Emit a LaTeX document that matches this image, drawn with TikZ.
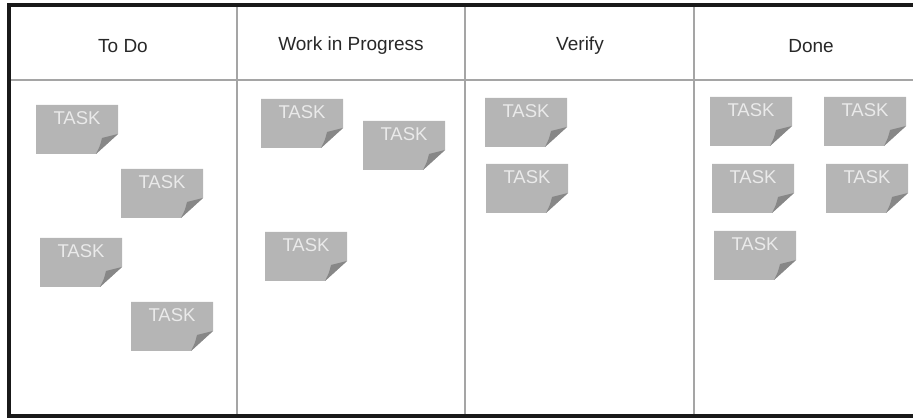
\documentclass[tikz,border=0pt]{standalone}
\usepackage{fontspec}
\setsansfont{Liberation Sans}
\usetikzlibrary{calc}
\definecolor{notegray}{RGB}{181,181,181}
\definecolor{foldgray}{RGB}{135,135,135}
\definecolor{labelwhite}{RGB}{234,234,234}
\definecolor{gridgray}{RGB}{165,165,165}
\definecolor{headink}{RGB}{40,40,40}
\tikzset{
    frameline/.style={line width=3.5pt,black!90,line join=miter},
    gridline/.style={line width=1.1pt,gridgray},
    heading/.style={font=\sffamily\fontsize{19}{21}\selectfont,text=headink},
    notebody/.style={fill=notegray},
    notefold/.style={fill=foldgray},
    notelabel/.style={font=\sffamily\fontsize{18.5}{20}\selectfont,text=labelwhite,inner sep=0pt},
    tasknote/.pic={
        \fill[notebody] (0,0) -- (82,0) -- (82,29) -- (60,49) -- (0,49) -- cycle;
        \fill[notefold] (82,29) .. controls (74,31) .. (66,33) .. controls (64,41) .. (60,49) -- cycle;
        \node[notelabel] (-label) at (41,13) {TASK};
    }
}

\begin{document}
\begin{tikzpicture}[x=1pt,y=-1pt]
    \useasboundingbox (0,0) rectangle (913,419);
    % Grid
    \draw[gridline] (9,80) -- (913,80);
    \foreach \x in {237,465,694}
        \draw[gridline] (\x,5) -- (\x,416);
    % Frame
    \draw[frameline] (913,5) -- (9,5) -- (9,416) -- (913,416);
    % Headings
    \node[heading] (todo) at (123,46) {To Do};
    \node[heading] (wip) at (351,46) {Work in Progress};
    \node[heading] (verify) at (580,46) {Verify};
    \node[heading] (done) at (811,46) {Done};
    % To Do
    \pic (todoA) at (36,105) {tasknote};
    \pic (todoB) at (121,169) {tasknote};
    \pic (todoC) at (40,238) {tasknote};
    \pic (todoD) at (131,302) {tasknote};
    % Work in Progress
    \pic (wipA) at (261,99) {tasknote};
    \pic (wipB) at (363,121) {tasknote};
    \pic (wipC) at (265,232) {tasknote};
    % Verify
    \pic (verifyA) at (485,98) {tasknote};
    \pic (verifyB) at (486,164) {tasknote};
    % Done
    \pic (doneA) at (710,97) {tasknote};
    \pic (doneB) at (824,97) {tasknote};
    \pic (doneC) at (712,164) {tasknote};
    \pic (doneD) at (826,164) {tasknote};
    \pic (doneE) at (714,231) {tasknote};
\end{tikzpicture}
\end{document}
